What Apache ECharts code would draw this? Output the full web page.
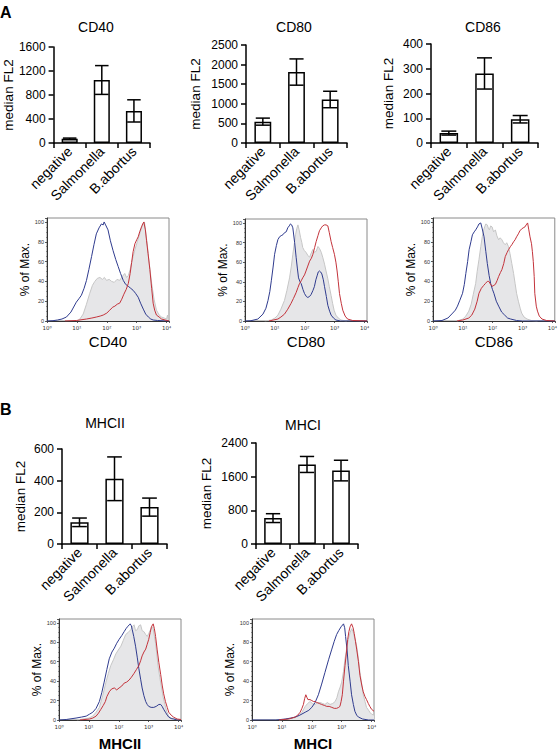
<!DOCTYPE html>
<html><head><meta charset="utf-8">
<script src="https://cdn.jsdelivr.net/npm/echarts@6/dist/echarts.min.js"></script>
<style>html,body{margin:0;padding:0;background:#fff}#c{width:560px;height:752px}</style>
</head><body><div id="c"></div>
<script>
// ---------- DATA ----------
const categories = ['negative', 'Salmonella', 'B.abortus'];

const cd40Mean = [70, 1050, 535];
const cd40Err = [12, 240, 185];
const cd80Mean = [545, 1810, 1110];
const cd80Err = [90, 335, 210];
const cd86Mean = [40, 281, 96];
const cd86Err = [8, 63, 15];
const mhc2Mean = [137, 412, 233];
const mhc2Err = [27, 138, 57];
const mhc1Mean = [615, 1890, 1745];
const mhc1Err = [105, 190, 245];

const cd40Ticks = [0, 400, 800, 1200, 1600];
const cd80Ticks = [0, 500, 1000, 1500, 2000, 2500];
const cd86Ticks = [0, 100, 200, 300, 400];
const mhc2Ticks = [0, 200, 400, 600];
const mhc1Ticks = [0, 800, 1600, 2400];

const histYTicks = [0, 20, 40, 60, 80, 100];
const histXTicks = ['10\u2070', '10\u00b9', '10\u00b2', '10\u00b3', '10\u2074'];

// histogram curves: [log10 fluorescence, % of max]
const cd40Gray = [[1.0,0],[1.1,2],[1.21,7],[1.32,17],[1.43,28],[1.52,36],[1.6,40],[1.68,43],[1.77,44],[1.85,42],[1.92,44],[1.99,41],[2.08,42],[2.16,40],[2.25,39],[2.34,42],[2.43,41],[2.52,45],[2.6,48],[2.66,44],[2.72,46],[2.78,52],[2.83,59],[2.88,65],[2.94,72],[3.02,80],[3.1,88],[3.16,94],[3.22,98],[3.26,100],[3.3,90],[3.35,78],[3.42,58],[3.5,38],[3.58,22],[3.66,11],[3.75,6],[3.83,4],[3.92,3],[4.0,2],[4.03,6],[4.06,1]];
const cd40Blue = [[0,0],[0.2,0.3],[0.35,1],[0.5,2],[0.65,4],[0.8,9],[0.98,19],[1.08,23],[1.15,26],[1.24,33],[1.32,41],[1.4,52],[1.49,65],[1.57,77],[1.65,88],[1.74,94],[1.82,98],[1.88,97],[1.91,100],[1.96,97],[2.04,92],[2.12,81],[2.21,71],[2.3,62],[2.38,55],[2.46,48],[2.55,41],[2.63,37],[2.72,35],[2.8,33],[2.88,31],[2.96,28],[3.05,24],[3.13,18],[3.22,12],[3.3,7],[3.39,4],[3.47,2],[3.55,1],[3.7,0.5],[4.08,0]];
const cd40Red = [[0.6,0],[0.98,0.5],[1.32,2],[1.5,3],[1.65,4],[1.78,5],[1.88,6],[2.0,8],[2.1,11],[2.2,14],[2.27,15],[2.35,17],[2.43,18],[2.5,22],[2.57,27],[2.65,32],[2.72,38],[2.78,48],[2.83,59],[2.88,70],[2.94,78],[3.0,82],[3.05,85],[3.1,90],[3.16,95],[3.2,98],[3.24,100],[3.29,92],[3.33,81],[3.38,68],[3.44,52],[3.5,33],[3.55,18],[3.6,11],[3.66,6],[3.75,4],[3.83,2],[3.95,1],[4.08,0]];

const cd80Gray = [[0.66,0],[0.88,1],[1.0,3],[1.1,6],[1.2,12],[1.32,21],[1.4,31],[1.49,44],[1.55,56],[1.6,68],[1.65,79],[1.69,88],[1.73,94],[1.77,98],[1.81,93],[1.86,85],[1.9,80],[1.93,75],[1.98,72],[2.04,70],[2.1,67],[2.16,65],[2.21,69],[2.27,73],[2.32,70],[2.38,71],[2.44,76],[2.49,74],[2.55,70],[2.6,65],[2.66,58],[2.71,51],[2.77,43],[2.82,35],[2.88,26],[2.93,18],[2.98,11],[3.04,6],[3.12,3],[3.21,1],[3.4,0]];
const cd80Blue = [[0,0],[0.2,0.3],[0.43,2],[0.6,7],[0.7,13],[0.77,21],[0.83,30],[0.88,41],[0.94,55],[0.99,68],[1.05,77],[1.1,83],[1.16,86],[1.21,87],[1.27,88],[1.32,90],[1.38,91],[1.43,95],[1.48,97],[1.52,99],[1.56,98],[1.6,95],[1.66,80],[1.71,65],[1.75,54],[1.79,44],[1.84,40],[1.88,38],[1.94,32],[1.99,28],[2.05,25],[2.1,24],[2.16,25],[2.21,27],[2.27,31],[2.32,35],[2.37,42],[2.41,46],[2.45,50],[2.49,51],[2.53,50],[2.57,48],[2.62,42],[2.66,35],[2.72,25],[2.77,16],[2.83,10],[2.88,6],[2.96,3],[3.04,1],[3.2,0],[4.08,0]];
const cd80Red = [[0.8,0],[1.1,2],[1.2,4],[1.32,7],[1.43,12],[1.54,18],[1.62,23],[1.71,29],[1.77,34],[1.82,38],[1.88,41],[1.93,44],[1.99,47],[2.04,51],[2.1,56],[2.16,61],[2.22,64],[2.27,68],[2.33,75],[2.38,81],[2.44,87],[2.49,92],[2.55,95],[2.6,97],[2.66,98],[2.71,98],[2.77,97],[2.82,90],[2.88,81],[2.93,75],[2.99,68],[3.04,60],[3.08,51],[3.12,40],[3.16,28],[3.22,18],[3.27,11],[3.35,5],[3.43,2],[3.6,0.5],[4.08,0]];

const cd86Gray = [[0.8,0],[1.0,2],[1.1,5],[1.2,10],[1.28,17],[1.35,27],[1.43,38],[1.48,50],[1.54,62],[1.6,75],[1.65,85],[1.69,91],[1.73,95],[1.77,98],[1.82,97],[1.86,93],[1.89,92],[1.93,96],[1.98,95],[2.03,90],[2.09,92],[2.14,86],[2.2,82],[2.25,84],[2.31,82],[2.36,79],[2.42,77],[2.47,79],[2.53,75],[2.58,68],[2.64,58],[2.7,48],[2.75,38],[2.8,28],[2.86,20],[2.92,13],[2.97,8],[3.05,4],[3.15,2],[3.3,0.5],[3.5,0]];
const cd86Blue = [[0,0],[0.3,0.5],[0.5,3],[0.66,8],[0.75,11],[0.82,15],[0.9,21],[0.99,28],[1.05,37],[1.1,48],[1.16,60],[1.21,72],[1.27,80],[1.32,87],[1.38,90],[1.43,92],[1.49,95],[1.54,98],[1.6,99],[1.65,93],[1.71,85],[1.77,70],[1.82,58],[1.88,46],[1.93,38],[1.99,32],[2.04,28],[2.12,20],[2.2,15],[2.3,9],[2.4,6],[2.5,3],[2.6,2],[2.8,0.5],[3.0,0],[4.08,0]];
const cd86Red = [[0.8,0],[1.0,1],[1.2,3],[1.3,6],[1.4,12],[1.48,20],[1.54,28],[1.62,33],[1.7,36],[1.76,38],[1.82,40],[1.87,40],[1.93,37],[1.98,35],[2.04,36],[2.09,37],[2.15,41],[2.2,45],[2.26,49],[2.31,52],[2.37,58],[2.42,65],[2.48,69],[2.53,72],[2.59,75],[2.64,77],[2.7,80],[2.75,82],[2.8,85],[2.86,88],[2.91,91],[2.97,93],[3.02,94],[3.08,95],[3.12,97],[3.17,99],[3.21,92],[3.25,85],[3.3,78],[3.33,70],[3.36,60],[3.39,45],[3.41,28],[3.46,15],[3.5,10],[3.56,5],[3.65,2],[3.8,0.5],[4.08,0]];

const mhc2Gray = [[0.6,0],[0.8,1],[1.0,2],[1.13,4],[1.24,8],[1.35,13],[1.46,25],[1.57,39],[1.65,48],[1.73,56],[1.82,62],[1.9,68],[1.98,72],[2.07,76],[2.15,82],[2.23,88],[2.31,90],[2.4,93],[2.45,96],[2.51,98],[2.56,92],[2.62,93],[2.67,97],[2.73,98],[2.78,92],[2.84,91],[2.9,88],[2.95,86],[3.0,89],[3.06,93],[3.1,95],[3.14,96],[3.18,88],[3.23,79],[3.27,68],[3.31,56],[3.37,44],[3.43,33],[3.48,24],[3.54,16],[3.6,9],[3.67,4],[3.75,2],[3.9,1],[4.0,0]];
const mhc2Blue = [[0,0],[0.24,0.5],[0.57,2],[0.75,3],[0.91,4],[1.02,6],[1.13,8],[1.24,12],[1.35,19],[1.43,28],[1.51,39],[1.6,52],[1.68,63],[1.77,70],[1.85,74],[1.93,79],[2.01,83],[2.1,87],[2.18,91],[2.24,94],[2.29,96],[2.35,98],[2.38,99],[2.42,97],[2.45,93],[2.5,86],[2.56,76],[2.62,64],[2.67,53],[2.73,42],[2.78,33],[2.84,25],[2.9,19],[2.95,16],[3.0,14],[3.08,13],[3.17,13],[3.25,14],[3.34,16],[3.4,16],[3.45,14],[3.5,11],[3.56,8],[3.62,5],[3.67,3],[3.75,1.5],[3.83,1],[3.95,0],[4.08,0]];
const mhc2Red = [[0.7,0],[1.02,1],[1.13,2],[1.24,4],[1.32,7],[1.4,11],[1.48,15],[1.55,19],[1.6,24],[1.68,29],[1.76,32],[1.85,33],[1.93,31],[2.01,33],[2.1,35],[2.18,38],[2.26,39],[2.34,41],[2.42,44],[2.51,48],[2.59,52],[2.67,56],[2.73,61],[2.78,66],[2.84,70],[2.9,73],[2.95,78],[3.0,83],[3.05,90],[3.09,96],[3.15,99],[3.19,94],[3.23,86],[3.28,73],[3.34,59],[3.4,47],[3.45,36],[3.5,27],[3.56,19],[3.62,13],[3.67,8],[3.75,5],[3.83,3],[3.95,1],[4.08,0.5]];

const mhc1Gray = [[0.9,0],[1.22,1],[1.4,2],[1.56,4],[1.67,8],[1.78,14],[1.86,17],[1.94,19],[2.02,17],[2.11,16],[2.2,18],[2.28,18],[2.36,17],[2.44,16],[2.52,18],[2.61,16],[2.7,17],[2.78,19],[2.84,23],[2.89,29],[2.95,34],[3.0,39],[3.06,50],[3.11,63],[3.17,74],[3.22,83],[3.28,90],[3.33,94],[3.38,91],[3.42,86],[3.46,82],[3.5,76],[3.56,63],[3.61,49],[3.67,37],[3.72,26],[3.78,19],[3.83,13],[3.9,10],[3.94,8],[4.0,6],[4.08,5]];
const mhc1Blue = [[0,0],[0.8,0],[1.11,1],[1.3,2],[1.44,3],[1.6,5],[1.78,8],[1.9,10],[2.0,13],[2.11,18],[2.22,26],[2.33,37],[2.44,49],[2.56,62],[2.67,73],[2.75,81],[2.83,88],[2.9,92],[2.98,96],[3.06,99],[3.1,95],[3.13,86],[3.18,72],[3.22,56],[3.28,40],[3.33,26],[3.39,16],[3.44,9],[3.5,5],[3.56,3],[3.7,1],[3.9,0],[4.08,0]];
const mhc1Red = [[0.9,0],[1.22,1],[1.44,3],[1.53,5],[1.61,8],[1.67,12],[1.72,16],[1.76,22],[1.8,26],[1.84,23],[1.87,21],[1.94,21],[2.0,20],[2.06,19],[2.11,19],[2.17,18],[2.25,17],[2.33,16],[2.42,15],[2.5,14],[2.58,14],[2.67,13],[2.75,12],[2.83,12],[2.9,13],[2.94,14],[2.98,19],[3.02,26],[3.06,40],[3.11,56],[3.16,70],[3.2,83],[3.24,91],[3.28,96],[3.33,99],[3.38,95],[3.42,89],[3.46,81],[3.5,73],[3.56,60],[3.61,46],[3.67,36],[3.72,29],[3.78,24],[3.83,21],[3.89,17],[3.94,14],[4.0,11],[4.08,9]];

// ---------- BUILD ----------
const FONT = "'Liberation Sans', Arial, Helvetica, sans-serif";
const grids = [], xAxes = [], yAxes = [], series = [], graphics = [];

function barPanel(cfg) {
  const gi = grids.length;
  grids.push({ left: cfg.left, top: cfg.top, width: cfg.width, height: cfg.height, containLabel: false });
  xAxes.push({
    gridIndex: gi, type: 'category', data: categories, boundaryGap: true,
    axisLine: { lineStyle: { color: '#000', width: 1.5 } },
    axisTick: { show: true, length: 5, alignWithLabel: false, lineStyle: { color: '#000', width: 1.5 } },
    axisLabel: { rotate: 45, interval: 0, fontSize: 14, color: '#000', fontFamily: FONT, margin: 6 },
    splitLine: { show: false }
  });
  const ticks = cfg.ticks;
  yAxes.push({
    gridIndex: gi, type: 'value', min: ticks[0], max: ticks[ticks.length - 1], interval: ticks[1] - ticks[0],
    axisLine: { show: true, lineStyle: { color: '#000', width: 1.5 } },
    axisTick: { show: true, length: 5, lineStyle: { color: '#000', width: 1.5 } },
    axisLabel: { fontSize: 12, color: '#000', fontFamily: FONT, margin: 8, formatter: v => String(v) },
    splitLine: { show: false },
    name: 'median FL2', nameLocation: 'middle', nameRotate: 90, nameGap: cfg.nameGap,
    nameTextStyle: { fontSize: 13.5, color: '#000', fontFamily: FONT }
  });
  series.push({
    type: 'bar', xAxisIndex: gi, yAxisIndex: gi, data: cfg.mean, barWidth: cfg.barWidth || '50%',
    itemStyle: { color: '#fff', borderColor: '#000', borderWidth: 1.5 }, silent: true, z: 2
  });
  series.push({
    type: 'custom', xAxisIndex: gi, yAxisIndex: gi, z: 5, silent: true,
    data: cfg.mean.map((m, i) => [i, m - cfg.err[i], m + cfg.err[i]]),
    renderItem: function (params, api) {
      const i = api.value(0);
      const top = api.coord([i, api.value(2)]);
      const bot = api.coord([i, api.value(1)]);
      const half = api.size([1, 0])[0] * 0.21;
      const st = { stroke: '#000', lineWidth: 1.5 };
      return { type: 'group', children: [
        { type: 'line', shape: { x1: top[0], y1: top[1], x2: bot[0], y2: bot[1] }, style: st },
        { type: 'line', shape: { x1: top[0] - half, y1: top[1], x2: top[0] + half, y2: top[1] }, style: st },
        { type: 'line', shape: { x1: bot[0] - half, y1: bot[1], x2: bot[0] + half, y2: bot[1] }, style: st }
      ]};
    }
  });
  graphics.push({ type: 'text', x: cfg.titleX, y: cfg.titleY,
    style: { text: cfg.title, fontSize: 14, fontFamily: FONT, fill: '#000', textAlign: 'center', textVerticalAlign: 'middle' } });
}

function histPanel(cfg) {
  const gi = grids.length;
  grids.push({ left: cfg.left, top: cfg.top, width: cfg.width, height: cfg.height, containLabel: false,
    show: true, borderColor: '#8a8a8a', borderWidth: 1, backgroundColor: 'rgba(0,0,0,0)' });
  xAxes.push({
    gridIndex: gi, type: 'value', min: 0, max: 4.08, interval: 1,
    axisLine: { lineStyle: { color: '#333', width: 1 } },
    axisTick: { show: true, length: 2, lineStyle: { color: '#333', width: 0.8 } },
    axisLabel: { fontSize: 5.5, color: '#333', fontFamily: "'DejaVu Sans', sans-serif", margin: 4,
      formatter: v => (Math.abs(v - Math.round(v)) < 1e-6 && v <= 4) ? histXTicks[Math.round(v)] : '' },
    splitLine: { show: false },
    name: cfg.name, nameLocation: 'middle', nameGap: cfg.nameGap,
    nameTextStyle: { fontSize: 15, color: '#000', fontFamily: FONT, fontWeight: cfg.bold ? 'bold' : 'normal' }
  });
  yAxes.push({
    gridIndex: gi, type: 'value', min: 0, max: 104, interval: 20,
    axisLine: { show: true, lineStyle: { color: '#333', width: 1 } },
    axisTick: { show: true, length: 2, lineStyle: { color: '#333', width: 0.8 } },
    minorTick: { show: true, splitNumber: 4, length: 1, lineStyle: { color: '#555', width: 0.6 } },
    axisLabel: { fontSize: 5.5, color: '#333', fontFamily: FONT, margin: 3,
      formatter: v => (histYTicks.indexOf(v) >= 0 ? String(v) : '') },
    splitLine: { show: false },
    name: '% of Max.', nameLocation: 'middle', nameRotate: 90, nameGap: cfg.yNameGap,
    nameTextStyle: { fontSize: 12, color: '#000', fontFamily: FONT }
  });
  series.push({ type: 'line', xAxisIndex: gi, yAxisIndex: gi, data: cfg.gray, showSymbol: false, silent: true,
    lineStyle: { color: '#c6c6c6', width: 1 }, areaStyle: { color: '#e6e6e8', opacity: 1 }, z: 2 });
  series.push({ type: 'line', xAxisIndex: gi, yAxisIndex: gi, data: cfg.blue, showSymbol: false, silent: true,
    lineStyle: { color: '#2f3b8e', width: 1 }, z: 3 });
  series.push({ type: 'line', xAxisIndex: gi, yAxisIndex: gi, data: cfg.red, showSymbol: false, silent: true,
    lineStyle: { color: '#c3333b', width: 1 }, z: 4 });
}

barPanel({ left: 51, top: 47, width: 99, height: 96, ticks: cd40Ticks, mean: cd40Mean, err: cd40Err, nameGap: 37, title: 'CD40', titleX: 96, titleY: 27 });
barPanel({ left: 246, top: 45, width: 101, height: 98, ticks: cd80Ticks, mean: cd80Mean, err: cd80Err, nameGap: 44, title: 'CD80', titleX: 294, titleY: 27 });
barPanel({ left: 431, top: 44, width: 107, height: 99, ticks: cd86Ticks, mean: cd86Mean, err: cd86Err, nameGap: 36, title: 'CD86', titleX: 483, titleY: 27, barWidth: '52%' });
barPanel({ left: 62, top: 449, width: 105, height: 95, ticks: mhc2Ticks, mean: mhc2Mean, err: mhc2Err, nameGap: 35, title: 'MHCII', titleX: 105, titleY: 423, barWidth: '52%' });
barPanel({ left: 256, top: 443, width: 102, height: 101, ticks: mhc1Ticks, mean: mhc1Mean, err: mhc1Err, nameGap: 43, title: 'MHCI', titleX: 303, titleY: 425, barWidth: '52%' });

histPanel({ left: 47, top: 218, width: 122, height: 103, gray: cd40Gray, blue: cd40Blue, red: cd40Red, name: 'CD40', nameGap: 13, yNameGap: 15 });
histPanel({ left: 245, top: 219, width: 122, height: 102, gray: cd80Gray, blue: cd80Blue, red: cd80Red, name: 'CD80', nameGap: 13, yNameGap: 15 });
histPanel({ left: 433, top: 218, width: 123, height: 103, gray: cd86Gray, blue: cd86Blue, red: cd86Red, name: 'CD86', nameGap: 13, yNameGap: 13 });
histPanel({ left: 59, top: 619, width: 122, height: 104, gray: mhc2Gray, blue: mhc2Blue, red: mhc2Red, name: 'MHCII', nameGap: 16, yNameGap: 16, bold: true });
histPanel({ left: 252, top: 619, width: 122, height: 104, gray: mhc1Gray, blue: mhc1Blue, red: mhc1Red, name: 'MHCI', nameGap: 16, yNameGap: 14, bold: true });

graphics.push({ type: 'text', x: 0, y: 4, style: { text: 'A', fontSize: 16, fontWeight: 'bold', fontFamily: FONT, fill: '#000' } });
graphics.push({ type: 'text', x: 0, y: 401, style: { text: 'B', fontSize: 16, fontWeight: 'bold', fontFamily: FONT, fill: '#000' } });

const chart = echarts.init(document.getElementById('c'), null, { renderer: 'svg' });
chart.setOption({
  animation: false,
  backgroundColor: '#fff',
  textStyle: { fontFamily: FONT },
  grid: grids, xAxis: xAxes, yAxis: yAxes, series: series, graphic: graphics
});
</script>
</body></html>
